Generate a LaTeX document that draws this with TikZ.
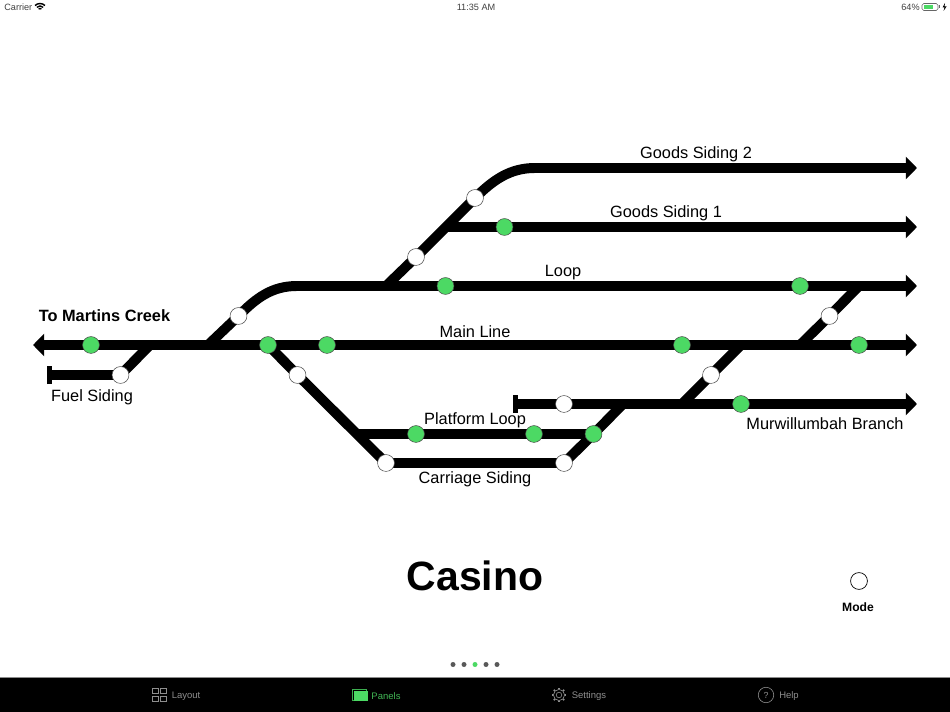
\documentclass[tikz,border=0pt]{standalone}
\usepackage{fontspec}
\setmainfont{Liberation Sans}
\usetikzlibrary{arrows.meta}
\usetikzlibrary{backgrounds}
\definecolor{Gcolor}{RGB}{76,217,100}
\definecolor{Tabcolor}{RGB}{142,142,142}
\tikzset{
    track/.style={line width=5.67pt, black},
    onward/.style={track, -{Triangle[length=6.4pt,width=12.6pt]}},
    stopend/.style={track, {Bar[width=10.5pt,line width=2.8pt]}-},
    lever/.style={circle, minimum size=9.6pt, inner sep=0pt, draw=black!70, line width=0.3pt},
    tracklabel/.style={font=\fontsize{9.3}{11}\selectfont},
    bartext/.style={font=\fontsize{5.2}{6}\selectfont, text=black!75},
    tabtext/.style={font=\fontsize{5.4}{6}\selectfont, text=Tabcolor},
    tabicon/.style={Tabcolor, line width=0.35pt}
}

\begin{document}
\begin{tikzpicture}[x=0.02cm, y=-0.02cm]

    \useasboundingbox (0,0) rectangle (950,712);

    % --- 1. LEVERS ---
    \foreach \name/\x/\y in {wFuel/120.5/375, wLoop/238.5/316, wDown/297.5/375, wGoodsTwo/475/198,
        wGoodsOne/416/257, wCarrLeft/386/463, wCarrRight/564/463, wBranch/564/404,
        wCrossLow/711/375, wCrossHigh/829.5/316} {
        \node[lever, fill=white] (\name) at (\x,\y) {};
    }
    \foreach \name/\x/\y in {gCreek/91/345, gMainA/268/345, gMainB/327/345, gGoods/504.5/227,
        gLoopA/445.5/286, gLoopB/800/286, gMainC/682/345, gMainD/859/345,
        gPlatA/416/434, gPlatB/534/434, gPlatC/593.5/434, gBranch/741/404} {
        \node[lever, fill=Gcolor] (\name) at (\x,\y) {};
    }

    % --- 2. TRACK ---
    \coordinate (mainWest) at (33,345);
    \coordinate (mainEast) at (917,345);
    \coordinate (fuelEnd) at (47,375);
    \coordinate (fuelJoin) at (150,345);
    \coordinate (loopJoin) at (208,345);
    \coordinate (loopBend) at (297,286);
    \coordinate (loopEast) at (917,286);
    \coordinate (goodsJoin) at (386,286);
    \coordinate (goodsBend) at (535,168);
    \coordinate (goodsTwoEast) at (917,168);
    \coordinate (goodsOneJoin) at (445,227);
    \coordinate (goodsOneEast) at (917,227);
    \coordinate (platWest) at (357,434);
    \coordinate (branchEnd) at (513,404);
    \coordinate (branchJoin) at (623,404);
    \coordinate (branchEast) at (917,404);
    \coordinate (crossLow) at (682,404);
    \coordinate (crossMid) at (741,345);
    \coordinate (crossMidB) at (800,345);
    \coordinate (crossHigh) at (859,286);

    \begin{scope}[on background layer]
        % Running lines
        \draw[onward] (gCreek.center) -- (mainWest);
        \draw[onward] (gCreek.center) -- (mainEast);
        \draw[onward] (loopBend) -- (loopEast);
        \draw[onward] (goodsBend) -- (goodsTwoEast);
        \draw[onward] (goodsOneJoin) -- (goodsOneEast);
        \draw[onward] (wBranch.center) -- (branchEast);
        \draw[stopend] (branchEnd) -- (wBranch.center);
        \draw[stopend] (fuelEnd) -- (wFuel.center);
        \draw[track] (wFuel.center) -- (fuelJoin);
        % Curved turnouts
        \draw[track] (loopJoin) -- (wLoop.center) .. controls (256,298) and (272,286) .. (loopBend);
        \draw[track] (goodsJoin) -- (wGoodsOne.center) -- (wGoodsTwo.center) .. controls (493,180) and (510,168) .. (goodsBend);
        % Lower yard
        \draw[track] (gMainA.center) -- (wDown.center) -- (wCarrLeft.center) -- (wCarrRight.center) -- (gPlatC.center) -- (branchJoin);
        \draw[track] (platWest) -- (gPlatC.center);
        % Crossovers
        \draw[track] (crossLow) -- (wCrossLow.center) -- (crossMid);
        \draw[track] (crossMidB) -- (wCrossHigh.center) -- (crossHigh);
    \end{scope}

    % --- 3. LABELS ---
    \node[tracklabel] (lblGoodsTwo) at (696,154.5) {Goods Siding 2};
    \node[tracklabel] (lblGoodsOne) at (666,213.5) {Goods Siding 1};
    \node[tracklabel] (lblLoop) at (563,272.5) {Loop};
    \node[tracklabel] (lblMain) at (475,331.5) {Main Line};
    \node[tracklabel, font=\fontsize{9.3}{11}\selectfont\bfseries] (lblCreek) at (104.5,315.5) {To Martins Creek};
    \node[tracklabel] (lblFuel) at (92,397) {Fuel Siding};
    \node[tracklabel] (lblPlat) at (475,420.5) {Platform Loop};
    \node[tracklabel] (lblCarr) at (475,479.5) {Carriage Siding};
    \node[tracklabel] (lblBranch) at (825,423.5) {Murwillumbah Branch};
    \node[font=\fontsize{23.3}{28}\selectfont\bfseries] (lblTitle) at (475,576) {Casino};

    % Mode
    \node[circle, minimum size=9.6pt, inner sep=0pt, draw=black, line width=0.4pt] (modeBtn) at (859,581) {};
    \node[font=\fontsize{6.9}{8}\selectfont\bfseries] (lblMode) at (858,607) {Mode};

    % --- 4. STATUS BAR ---
    \node[bartext, anchor=west, inner sep=0pt] (carrier) at (4,7.5) {Carrier};
    \node[bartext, inner sep=0pt] (clock) at (476,7.5) {11:35 AM};
    \node[bartext, anchor=east, inner sep=0pt] (charge) at (920,7.5) {64\%};
    \foreach \r in {2,4.5,7} {
        \draw[black, line width=0.8pt] (40,10.5) ++(225:\r) arc (225:315:\r);
    }
    \draw[black!60, line width=0.3pt, rounded corners=1pt] (922,3.5) rectangle (938,10.5);
    \fill[Gcolor] (923.5,5) rectangle (933,9);
    \fill[black!60] (938.5,5.5) rectangle (940,8.5);
    \fill[black] (945,3) -- (942.5,7.5) -- (944.5,7.5) -- (943.5,11) -- (946.5,6.5) -- (944.5,6.5) -- cycle;

    % --- 5. PAGE DOTS ---
    \foreach \x in {453,464,486,497} {
        \fill[black!65] (\x,664.5) circle (2.5);
    }
    \fill[Gcolor] (475,664.5) circle (2.5);

    % --- 6. TAB BAR ---
    \fill[black] (0,678) rectangle (950,712);
    \draw[black!45, line width=0.4pt] (0,677.5) -- (950,677.5);

    \foreach \x in {152,160} {
        \foreach \y in {688,696} {
            \draw[tabicon] (\x,\y) rectangle ++(6.5,5.5);
        }
    }
    \node[tabtext] (tabLayout) at (186,696) {Layout};

    \draw[Gcolor!80!black, line width=0.35pt] (352,689) rectangle (366,700);
    \fill[Gcolor] (354,690.5) rectangle (368,701);
    \node[tabtext, text=Gcolor!85!black] (tabPanels) at (386,696) {Panels};

    \draw[tabicon] (559,695) circle (2.8);
    \draw[tabicon] (559,695) circle (5.6);
    \foreach \a in {0,45,...,315} {
        \draw[tabicon, line width=0.9pt] (559,695) ++(\a:5.6) -- ++(\a:1.8);
    }
    \node[tabtext] (tabSettings) at (589,696) {Settings};

    \node[tabicon, circle, draw, minimum size=8.8pt, inner sep=0pt, font=\fontsize{5}{6}\selectfont, text=Tabcolor] (helpIcon) at (766,695) {?};
    \node[tabtext] (tabHelp) at (789,696) {Help};

\end{tikzpicture}
\end{document}
